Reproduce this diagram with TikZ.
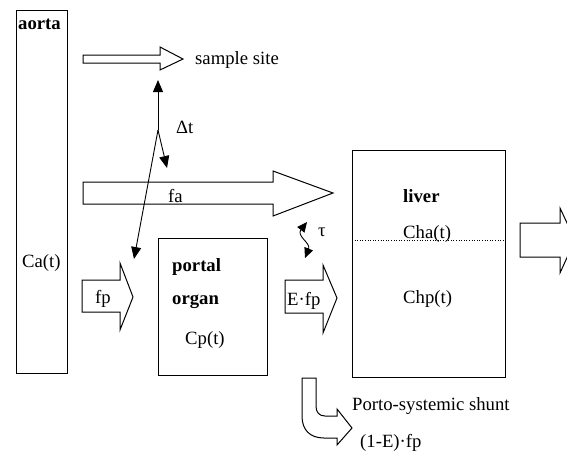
\documentclass[tikz,border=0pt]{standalone}
\usepackage{fontspec}
\setmainfont{Liberation Serif}
\usetikzlibrary{arrows.meta}
\begin{document}
\begin{tikzpicture}[x=1pt,y=-1pt,
  lbl/.style={inner sep=0pt, anchor=base west, font=\fontsize{18.7}{22}\selectfont},
  blbl/.style={lbl, font=\fontsize{18.7}{22}\selectfont\bfseries},
  organbox/.style={draw, line width=1.2pt, inner sep=0pt, anchor=north west},
  blockarrow/.style={draw, line width=1pt, line join=miter, fill=white},
  thin/.style={line width=0.9pt},
  tip/.style={-{Triangle[length=12pt,width=10pt]}},
  smalltip/.style={{Triangle[length=10pt,width=9pt]}-{Triangle[length=10pt,width=9pt]}}
]
\useasboundingbox (0,0) rectangle (567,456);
\begin{scope}
\clip (0,0) rectangle (567,456);
% organ boxes
\node[organbox, minimum width=51pt, minimum height=363pt] (aorta) at (16,10) {};
\node[organbox, minimum width=109pt, minimum height=137pt] (portal) at (158,238) {};
\node[organbox, minimum width=153pt, minimum height=227pt] (liver) at (352,150) {};
\draw[dotted, line width=0.6pt] (liver.west |- 0,240) coordinate (dl) -- (liver.east |- 0,240) coordinate (dr);

% block arrows
\draw[blockarrow] (83,55) -- (160,55) -- (160,47) -- (183,59) -- (160,70) -- (160,63) -- (83,63) -- cycle;
\draw[blockarrow] (83,182) -- (273,182) -- (273,171) -- (333,193) -- (273,216) -- (273,204) -- (83,204) -- cycle;
\draw[blockarrow] (82,280) -- (120,280) -- (120,263) -- (133,297) -- (120,330) -- (120,312) -- (82,312) -- cycle;
\draw[blockarrow] (285,280) -- (323,280) -- (323,265) -- (337,298) -- (323,333) -- (323,313) -- (285,313) -- cycle;
\draw[blockarrow] (520,223) -- (560,223) -- (560,208) -- (575,240) -- (560,273) -- (560,257) -- (520,257) -- cycle;
% porto-systemic shunt
\draw[blockarrow] (302,378) -- (302,416) .. controls (302,430) and (310,438) .. (324,438)
  -- (337,438) -- (337,445) -- (352,428) -- (337,409) -- (337,416) -- (325,416)
  .. controls (319,416) and (316,412) .. (316,406) -- (316,378) -- cycle;
\end{scope}

% labels
\node[blbl] (laorta) at (18,29) {aorta};
\node[lbl] (lca) at (22,267) {Ca(t)};
\node[lbl] (lsample) at (195,64) {sample site};
\node[lbl] (ldt) at (176,133) {Δt};
\node[lbl] (lfa) at (168,202) {fa};
\node[lbl] (lfp) at (95,303) {fp};
\node[blbl] (lportal) at (172,271) {portal};
\node[blbl] (lorgan) at (172,304) {organ};
\node[lbl] (lcp) at (185,344) {Cp(t)};
\node[lbl] (ltau) at (318,236) {τ};
\node[lbl] (lefp) at (287,305) {E·fp};
\node[blbl] (lliver) at (403,202) {liver};
\node[lbl] (lcha) at (403,238) {Cha(t)};
\node[lbl] (lchp) at (403,303) {Chp(t)};
\node[lbl] (lshunt) at (352,410) {Porto-systemic shunt};
\node[lbl] (lshuntf) at (360,447) {(1-E)·fp};

% delta t arrows
\coordinate (dj) at (158,130);
\coordinate (dup) at (158,80);
\coordinate (ddown) at (167,168);
\coordinate (dlong) at (134,259);
\draw[thin, tip] (dj) -- (dup);
\draw[thin, tip] (dj) -- (ddown);
\draw[thin, tip] (dj) -- (dlong);

% tau arrow
\coordinate (tt) at (307,222);
\coordinate (tb) at (305,258);
\draw[thin, smalltip] (tt) .. controls (296,236) and (311,243) .. (tb);
\end{tikzpicture}
\end{document}
